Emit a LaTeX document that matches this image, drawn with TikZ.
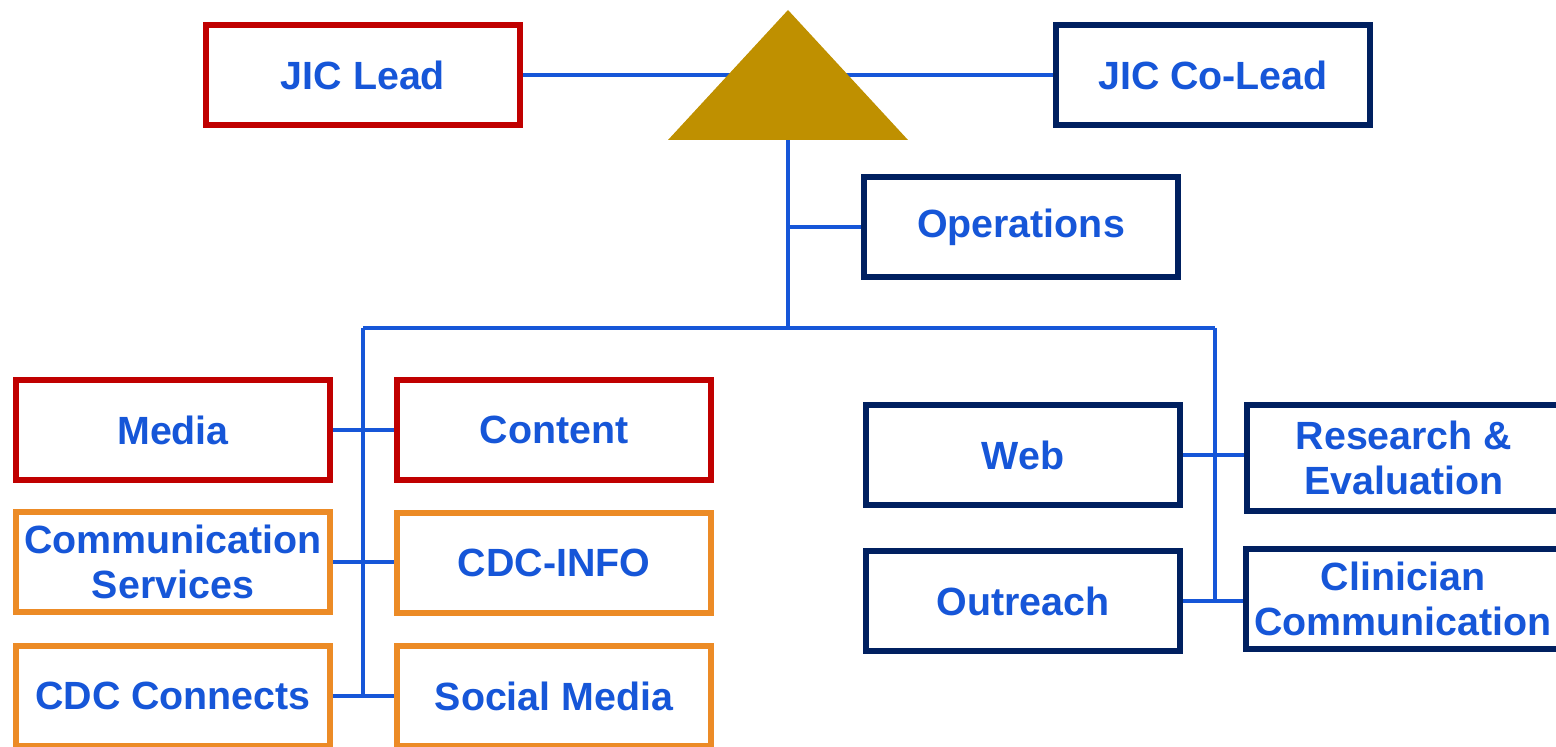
\documentclass[tikz,border=0pt]{standalone}
\usepackage{fontspec}
\setmainfont{Liberation Sans}
\definecolor{leadred}{HTML}{C00000}
\definecolor{navy}{HTML}{002060}
\definecolor{jicorange}{HTML}{EC8B26}
\definecolor{jicblue}{HTML}{1656D8}
\definecolor{gold}{HTML}{BF9000}
\tikzset{
  unit/.style={draw, fill=white, line width=4pt, minimum width=7.85cm, minimum height=2.5cm,
    align=center, text=jicblue, font=\fontsize{28}{32}\selectfont\bfseries},
  redunit/.style={unit, draw=leadred},
  navyunit/.style={unit, draw=navy},
  orangeunit/.style={unit, draw=jicorange},
  link/.style={draw=jicblue, line width=2.4pt}
}

\begin{document}
\begin{tikzpicture}[x=0.025cm, y=-0.025cm]
    \useasboundingbox (0, 0) rectangle (1556, 747);
    \clip (0, 0) rectangle (1556, 747);
    \node[redunit] (lead) at (363, 75) {JIC Lead};
    \node[navyunit] (colead) at (1213, 75) {JIC Co-Lead};
    \node[navyunit] (ops) at (1021, 227) {Operations};
    \node[redunit] (media) at (173, 430) {Media};
    \node[redunit] (content) at (554, 430) {Content};
    \node[orangeunit] (commsvc) at (173, 562) {Communication\\Services};
    \node[orangeunit] (cdcinfo) at (554, 563) {CDC-INFO};
    \node[orangeunit] (connects) at (173, 696) {CDC Connects};
    \node[orangeunit] (social) at (554, 696) {Social Media};
    \node[navyunit] (web) at (1023, 455) {Web};
    \node[navyunit, minimum height=2.65cm] (research) at (1404, 458) {Research \&\\Evaluation};
    \node[navyunit] (outreach) at (1023, 601) {Outreach};
    \node[navyunit] (clinician) at (1403, 599) {Clinician\\Communication};
    \coordinate (tri) at (788, 140);
    \coordinate (trunk) at (788, 328);
    \coordinate (busL) at (363, 328);
    \coordinate (busR) at (1215, 328);
    \draw[link](lead.east)--(colead.west);
    \fill[gold](668, 140)--(788, 10)--(908, 140)--cycle;
    \draw[link](tri)--(trunk);
    \draw[link](ops.west)--(ops.west -| tri);
    \draw[link](busL)--(busR);
    \draw[link](busL)--(busL |- connects.east);
    \draw[link](busR)--(busR |- outreach.east);
    \draw[link](media.east)--(content.west);
    \draw[link](commsvc.east)--(commsvc.east -| cdcinfo.west);
    \draw[link](connects.east)--(social.west);
    \draw[link](web.east)--(web.east -| research.west);
    \draw[link](outreach.east)--(outreach.east -| clinician.west);
\end{tikzpicture}
\end{document}
